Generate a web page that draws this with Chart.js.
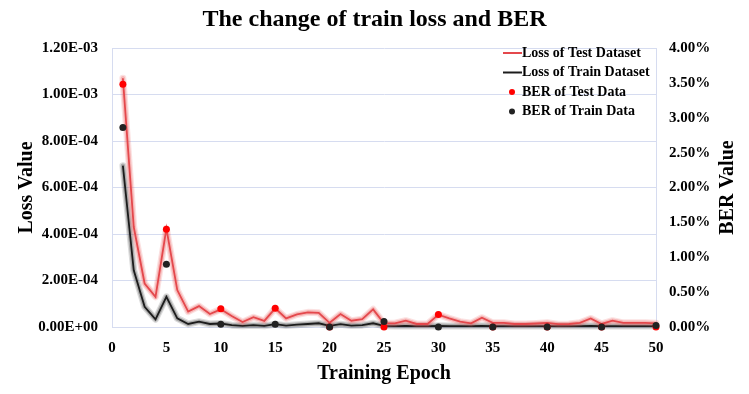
<!DOCTYPE html>
<html>
<head>
<meta charset="utf-8">
<script src="https://cdn.jsdelivr.net/npm/chart.js@4.4.0/dist/chart.umd.min.js"></script>
<style>
  html, body { margin: 0; padding: 0; background: #fff; }
  .chart-box { width: 749px; height: 394px; }
</style>
</head>
<body>
<div class="chart-box"><canvas id="lossChart"></canvas></div>
<script>
// epochs 1..50
const epochs = Array.from({length: 50}, (_, i) => i + 1);

// loss values (x 1e-4)
const testLoss = [10.7, 4.3, 1.87, 1.3, 4.23, 1.59, 0.66, 0.9, 0.56, 0.76,
  0.47, 0.21, 0.42, 0.26, 0.8, 0.37, 0.54, 0.63, 0.61, 0.18,
  0.56, 0.27, 0.34, 0.76, 0.16, 0.16, 0.27, 0.13, 0.13, 0.53,
  0.37, 0.23, 0.16, 0.4, 0.18, 0.18, 0.13, 0.13, 0.15, 0.18,
  0.12, 0.13, 0.18, 0.37, 0.13, 0.27, 0.18, 0.18, 0.18, 0.16];
const trainLoss = [6.94, 2.44, 0.87, 0.33, 1.3, 0.37, 0.13, 0.23, 0.13, 0.15,
  0.08, 0.05, 0.08, 0.05, 0.12, 0.06, 0.1, 0.13, 0.16, 0.05,
  0.12, 0.06, 0.08, 0.16, 0.05, 0.04, 0.05, 0.04, 0.04, 0.05,
  0.04, 0.04, 0.04, 0.05, 0.04, 0.04, 0.04, 0.04, 0.04, 0.04,
  0.04, 0.04, 0.04, 0.05, 0.04, 0.04, 0.04, 0.04, 0.04, 0.04];

// BER (%) sampled every 5 epochs
const berEpochs = [1, 5, 10, 15, 20, 25, 30, 35, 40, 45, 50];
const berTest = [3.48, 1.40, 0.26, 0.27, 0, 0, 0.18, 0, 0, 0, 0];
const berTrain = [2.86, 0.90, 0.04, 0.04, 0, 0.08, 0, 0, 0, 0, 0.02];

const xTicks = [0, 5, 10, 15, 20, 25, 30, 35, 40, 45, 50];
const rightTitle = 'BER Value';

const serif = '"Liberation Serif", "Times New Roman", serif';
const gridColor = 'rgb(214,220,240)';

function sci(v) {
  if (Math.abs(v) < 1e-12) return '0.00E+00';
  const parts = v.toExponential(2).split('e');
  const n = parseInt(parts[1], 10);
  return parts[0] + 'E' + (n < 0 ? '-' : '+') + String(Math.abs(n)).padStart(2, '0');
}

const pts = (xs, ys, k) => xs.map((x, i) => ({x: x, y: ys[i] * k}));

// soft halo under the loss lines, traced through the points the scales placed
const glowPlugin = {
  id: 'glow',
  beforeDatasetDraw(chart, args) {
    const ds = chart.data.datasets[args.index];
    if (!ds.glow) return;
    const ctx = chart.ctx;
    const elems = args.meta.data;
    ctx.save();
    ctx.lineJoin = 'round';
    ctx.lineCap = 'round';
    [[7, 0.18], [4.5, 0.3]].forEach(([w, a]) => {
      ctx.strokeStyle = ds.glow.replace('A', a);
      ctx.lineWidth = w;
      ctx.beginPath();
      elems.forEach((p, i) => (i ? ctx.lineTo(p.x, p.y) : ctx.moveTo(p.x, p.y)));
      ctx.stroke();
    });
    ctx.restore();
  }
};

// legend in the upper right corner of the plot + right axis title read bottom-up
const cornerLegend = {
  id: 'cornerLegend',
  afterDraw(chart) {
    const ctx = chart.ctx;
    const x0 = 503, y0 = 53, step = 19.5;
    ctx.save();
    ctx.font = 'bold 14px ' + serif;
    ctx.textBaseline = 'middle';
    chart.data.datasets.forEach((ds, i) => {
      const y = y0 + i * step;
      if (ds.showLine === false) {
        ctx.fillStyle = ds.pointBackgroundColor;
        ctx.beginPath();
        ctx.arc(x0 + 9, y, 3, 0, Math.PI * 2);
        ctx.fill();
      } else {
        ctx.strokeStyle = ds.borderColor;
        ctx.lineWidth = 2;
        ctx.beginPath();
        ctx.moveTo(x0, y);
        ctx.lineTo(x0 + 19, y);
        ctx.stroke();
      }
      ctx.fillStyle = '#000';
      ctx.fillText(ds.label, x0 + 19, y);
    });

    const area = chart.chartArea;
    ctx.translate(chart.width - 21, (area.top + area.bottom) / 2);
    ctx.rotate(-Math.PI / 2);
    ctx.font = 'bold 20px ' + serif;
    ctx.textAlign = 'center';
    ctx.fillText(rightTitle, 0, 0);
    ctx.restore();
  }
};

new Chart(document.getElementById('lossChart'), {
  type: 'line',
  data: {
    datasets: [
      {
        label: 'Loss of Test Dataset',
        data: pts(epochs, testLoss, 1e-4),
        borderColor: '#e4484c',
        borderWidth: 1.8,
        glow: 'rgba(235,90,90,A)',
        pointRadius: 0,
        tension: 0,
        yAxisID: 'y',
        order: 2
      },
      {
        label: 'Loss of Train Dataset',
        data: pts(epochs, trainLoss, 1e-4),
        borderColor: '#1c1c1c',
        borderWidth: 1.8,
        glow: 'rgba(60,60,60,A)',
        pointRadius: 0,
        tension: 0,
        yAxisID: 'y',
        order: 3
      },
      {
        label: 'BER of Test Data',
        data: pts(berEpochs, berTest, 1),
        showLine: false,
        pointRadius: 3.5,
        pointBackgroundColor: '#ff0000',
        pointBorderWidth: 0,
        yAxisID: 'y1',
        clip: false,
        order: 1
      },
      {
        label: 'BER of Train Data',
        data: pts(berEpochs, berTrain, 1),
        showLine: false,
        pointRadius: 3.5,
        pointBackgroundColor: '#222222',
        pointBorderWidth: 0,
        yAxisID: 'y1',
        clip: false,
        order: 0
      }
    ]
  },
  options: {
    responsive: true,
    maintainAspectRatio: false,
    animation: false,
    events: [],
    layout: { padding: 0 },
    plugins: {
      legend: { display: false },
      tooltip: { enabled: false },
      title: {
        display: true,
        text: 'The change of train loss and BER',
        color: '#000',
        font: { family: serif, size: 24, weight: 'bold', lineHeight: 1.2 },
        padding: { top: 5, bottom: 14.2 }
      }
    },
    scales: {
      x: {
        type: 'linear',
        min: 0,
        max: 50,
        afterBuildTicks: s => { s.ticks = xTicks.map(v => ({value: v})); },
        afterFit: s => { s.height = 67; },
        grid: { display: false },
        border: { display: true, color: gridColor, width: 1 },
        ticks: {
          color: '#000',
          padding: 4,
          maxRotation: 0,
          font: { family: serif, size: 15, weight: 'bold' }
        },
        title: {
          display: true,
          text: 'Training Epoch',
          color: '#000',
          font: { family: serif, size: 20, weight: 'bold', lineHeight: 1.2 },
          padding: { top: 0, bottom: 8 }
        }
      },
      y: {
        position: 'left',
        min: 0,
        max: 0.0012,
        afterFit: s => { s.width = 112; },
        grid: { color: gridColor, drawTicks: false },
        border: { display: true, color: gridColor },
        ticks: {
          stepSize: 0.0002,
          color: '#000',
          padding: 14,
          font: { family: serif, size: 15, weight: 'bold' },
          callback: v => sci(v)
        },
        title: {
          display: true,
          text: 'Loss Value',
          color: '#000',
          font: { family: serif, size: 20, weight: 'bold', lineHeight: 1.2 },
          padding: { top: 15, bottom: 0 }
        }
      },
      y1: {
        position: 'right',
        min: 0,
        max: 4,
        afterFit: s => { s.width = 93; },
        grid: { drawOnChartArea: false, drawTicks: false },
        border: { display: true, color: gridColor },
        ticks: {
          stepSize: 0.5,
          color: '#000',
          padding: 13,
          font: { family: serif, size: 15, weight: 'bold' },
          callback: v => v.toFixed(2) + '%'
        }
      }
    }
  },
  plugins: [glowPlugin, cornerLegend]
});
</script>
</body>
</html>
